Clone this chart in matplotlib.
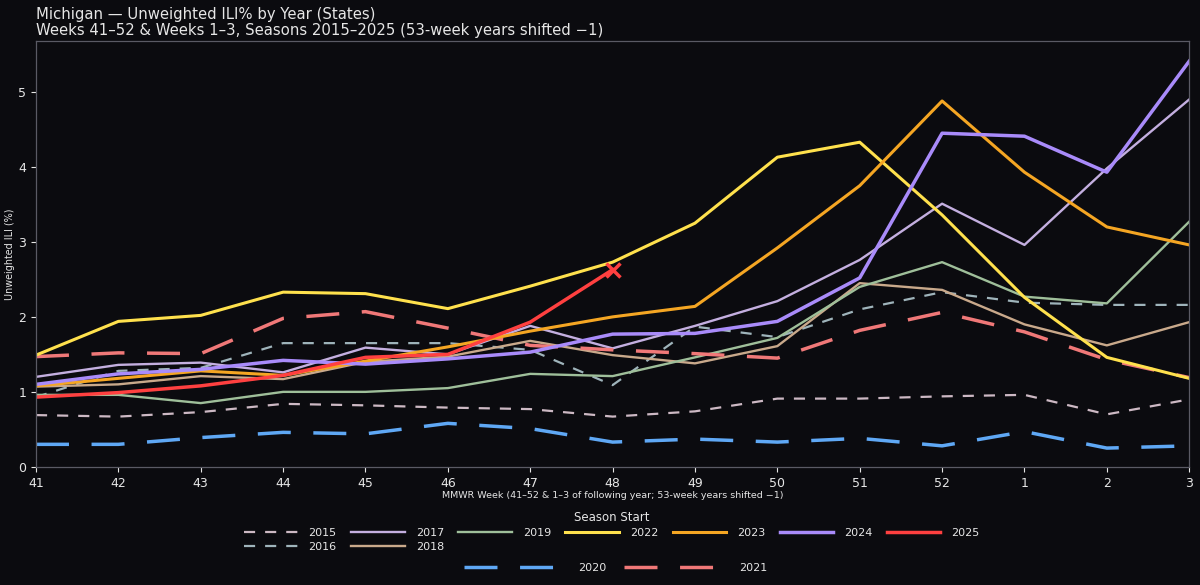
import matplotlib
matplotlib.use("Agg")
import matplotlib.pyplot as plt

weeks = ["41", "42", "43", "44", "45", "46", "47", "48", "49", "50", "51", "52", "1", "2", "3"]

ili_2015 = [0.69, 0.67, 0.73, 0.84, 0.82, 0.79, 0.77, 0.67, 0.74, 0.91, 0.91, 0.94, 0.96, 0.70, 0.90]
ili_2016 = [0.93, 1.28, 1.32, 1.65, 1.65, 1.65, 1.56, 1.09, 1.87, 1.73, 2.10, 2.33, 2.19, 2.16, 2.16]
ili_2017 = [1.20, 1.36, 1.39, 1.26, 1.59, 1.50, 1.88, 1.58, 1.88, 2.21, 2.76, 3.51, 2.96, 3.98, 4.90]
ili_2018 = [1.07, 1.10, 1.21, 1.17, 1.40, 1.47, 1.68, 1.49, 1.38, 1.61, 2.45, 2.36, 1.90, 1.62, 1.93]
ili_2019 = [0.96, 0.96, 0.85, 1.00, 1.00, 1.05, 1.24, 1.21, 1.46, 1.72, 2.40, 2.73, 2.27, 2.18, 3.27]
ili_2020 = [0.30, 0.30, 0.39, 0.46, 0.44, 0.58, 0.51, 0.33, 0.37, 0.33, 0.38, 0.28, 0.47, 0.25, 0.28]
ili_2021 = [1.47, 1.52, 1.51, 1.98, 2.07, 1.85, 1.62, 1.56, 1.51, 1.45, 1.82, 2.06, 1.80, 1.43, 1.19]
ili_2022 = [1.49, 1.94, 2.02, 2.33, 2.31, 2.11, 2.41, 2.73, 3.25, 4.13, 4.33, 3.36, 2.26, 1.46, 1.18]
ili_2023 = [1.08, 1.18, 1.28, 1.22, 1.41, 1.60, 1.81, 2.00, 2.14, 2.92, 3.75, 4.88, 3.93, 3.20, 2.96]
ili_2024 = [1.10, 1.24, 1.30, 1.42, 1.37, 1.44, 1.53, 1.77, 1.78, 1.94, 2.52, 4.45, 4.41, 3.93, 5.41]
ili_2025 = [0.93, 0.99, 1.08, 1.22, 1.46, 1.50, 1.93, 2.63]

seasons = ["2015", "2016", "2017", "2018", "2019", "2020", "2021", "2022", "2023", "2024", "2025"]
values = [ili_2015, ili_2016, ili_2017, ili_2018, ili_2019, ili_2020, ili_2021,
          ili_2022, ili_2023, ili_2024, ili_2025]

colors = {"2015": "#cdb9c4", "2016": "#9fb4bb", "2017": "#c4afe0", "2018": "#c9a98b",
          "2019": "#9fbf9a", "2020": "#5fa8f5", "2021": "#f07878", "2022": "#ffe14d",
          "2023": "#f5a623", "2024": "#a98bfa", "2025": "#ff4040"}
styles = {
    "2015": dict(lw=1.6, ls=(0, (5, 4.5))),
    "2016": dict(lw=1.6, ls=(0, (5, 4.5))),
    "2017": dict(lw=1.7, ls="-"),
    "2018": dict(lw=1.7, ls="-"),
    "2019": dict(lw=1.7, ls="-"),
    "2020": dict(lw=2.5, ls=(0, (9.5, 6.5))),
    "2021": dict(lw=2.5, ls=(0, (9.5, 6.5))),
    "2022": dict(lw=2.2, ls="-"),
    "2023": dict(lw=2.2, ls="-"),
    "2024": dict(lw=2.5, ls="-"),
    "2025": dict(lw=2.5, ls="-"),
}

BG = "#0b0b0f"
FG = "#e6e6e6"

fig = plt.figure(figsize=(12, 5.85), dpi=100, facecolor=BG)
ax = fig.add_axes([0.03, 0.202, 0.961, 0.728])
ax.set_facecolor(BG)

handles = {}
for s, v in zip(seasons, values):
    x = list(range(len(v)))
    st = styles[s]
    (ln,) = ax.plot(x, v, color=colors[s], lw=st["lw"], linestyle=st["ls"], label=s)
    handles[s] = ln

# marker on latest point of the current season
ax.plot([len(ili_2025) - 1], [ili_2025[-1]], marker="x", color=colors["2025"],
        markersize=10, mew=2.5, linestyle="none")

ymax = max(max(v) for v in values)
ax.set_xlim(0, len(weeks) - 1)
ax.set_ylim(0, ymax * 1.05)
ax.set_xticks(range(len(weeks)))
ax.set_xticklabels(weeks)
ax.set_yticks([0, 1, 2, 3, 4, 5])

for sp in ax.spines.values():
    sp.set_color("#5a5a64")
    sp.set_linewidth(0.9)
ax.tick_params(colors=FG, labelsize=9, length=3.5, width=0.8)
for t in ax.get_xticklabels() + ax.get_yticklabels():
    t.set_color(FG)

ax.set_xlabel("MMWR Week (41–52 & 1–3 of following year; 53-week years shifted −1)",
              color=FG, fontsize=6.8, labelpad=1)
ax.set_ylabel("Unweighted ILI (%)", color=FG, fontsize=6.9, labelpad=2)
ax.set_title("Michigan — Unweighted ILI% by Year (States)\n"
             "Weeks 41–52 & Weeks 1–3, Seasons 2015–2025 (53-week years shifted −1)",
             loc="left", color=FG, fontsize=10.7, pad=4, linespacing=1.15)

main = ["2015", "2016", "2017", "2018", "2019", "2022", "2023", "2024", "2025"]
leg1 = fig.legend([handles[s] for s in main], main, loc="upper center",
                  bbox_to_anchor=(0.51, 0.143), ncol=7, frameon=False,
                  fontsize=8, title="Season Start", title_fontsize=8.5,
                  handlelength=4.8, handletextpad=1.0, columnspacing=1.3,
                  labelspacing=0.35, labelcolor=FG)
leg1.get_title().set_color(FG)

extra = ["2020", "2021"]
leg2 = fig.legend([handles[s] for s in extra], extra, loc="center",
                  bbox_to_anchor=(0.513, 0.029), ncol=2, frameon=False,
                  fontsize=8, handlelength=9.5, handletextpad=0.8,
                  columnspacing=1.6, labelcolor=FG)

fig.savefig("out.png", dpi=100, facecolor=BG)
